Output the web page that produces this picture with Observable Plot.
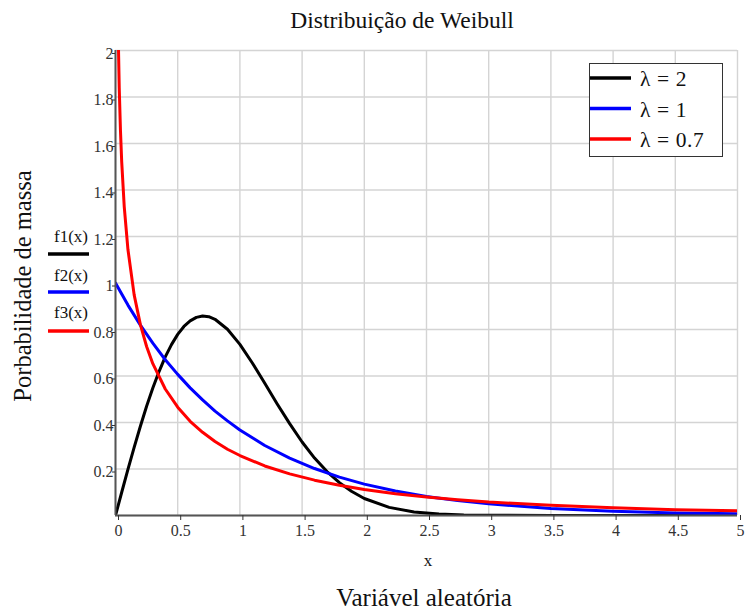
<!DOCTYPE html>
<html>
<head>
<meta charset="utf-8">
<script src="https://cdn.jsdelivr.net/npm/d3@7"></script>
<script src="https://cdn.jsdelivr.net/npm/@observablehq/plot@0.6"></script>
<style>
  html, body { margin: 0; padding: 0; background: #fff; }
  #chart { position: relative; width: 745px; height: 612px; }
  svg { display: block; }
  #chart svg, #chart svg text { font-family: "Liberation Serif", "Times New Roman", serif !important; }
</style>
</head>
<body>
<div id="chart"></div>
<script>
// ---- text ----
const titleText = "Distribuição de Weibull";
const xAxisLabel = "x";
const xCaption = "Variável aleatória";
const yAxisLabel = "Porbabilidade de massa";
const seriesNames = ["λ = 2", "λ = 1", "λ = 0.7"];
const seriesFuncLabels = ["f1(x)", "f2(x)", "f3(x)"];
const seriesColors = ["#000000", "#0000ff", "#ff0000"];

// ---- ticks ----
const xTicks = [0, 0.5, 1, 1.5, 2, 2.5, 3, 3.5, 4, 4.5, 5];
const xTickLabels = ["0", "0.5", "1", "1.5", "2", "2.5", "3", "3.5", "4", "4.5", "5"];
const yGridTicks = [0, 0.2, 0.4, 0.6, 0.8, 1, 1.2, 1.4, 1.6, 1.8, 2];
const yTicks = [0.2, 0.4, 0.6, 0.8, 1, 1.2, 1.4, 1.6, 1.8, 2];
const yTickLabels = ["0.2", "0.4", "0.6", "0.8", "1", "1.2", "1.4", "1.6", "1.8", "2"];

// ---- series ----
const x1 = [0, 0.05, 0.1, 0.15, 0.2, 0.25, 0.3, 0.35, 0.4, 0.45, 0.5, 0.55, 0.6, 0.65, 0.7, 0.75, 0.8, 0.9, 1.0, 1.1, 1.2, 1.3, 1.4, 1.5, 1.6, 1.7, 1.8, 1.9, 2.0, 2.2, 2.4, 2.6, 2.8, 3.0, 3.5, 4.0, 4.5, 5.0];
const f1 = [0, 0.100, 0.198, 0.293, 0.384, 0.470, 0.548, 0.619, 0.682, 0.735, 0.779, 0.813, 0.837, 0.852, 0.858, 0.855, 0.844, 0.801, 0.736, 0.656, 0.569, 0.480, 0.395, 0.316, 0.247, 0.189, 0.141, 0.103, 0.073, 0.035, 0.015, 0.006, 0.002, 0.001, 0, 0, 0, 0];

const x2 = [0, 0.1, 0.2, 0.3, 0.4, 0.5, 0.6, 0.7, 0.8, 0.9, 1.0, 1.2, 1.4, 1.6, 1.8, 2.0, 2.25, 2.5, 2.75, 3.0, 3.5, 4.0, 4.5, 5.0];
const f2 = [1, 0.905, 0.819, 0.741, 0.670, 0.607, 0.549, 0.497, 0.449, 0.407, 0.368, 0.301, 0.247, 0.202, 0.165, 0.135, 0.105, 0.082, 0.064, 0.050, 0.030, 0.018, 0.011, 0.007];

const x3 = [0.01, 0.02, 0.03, 0.04, 0.05, 0.07, 0.1, 0.15, 0.2, 0.25, 0.3, 0.4, 0.5, 0.6, 0.7, 0.8, 0.9, 1.0, 1.2, 1.4, 1.6, 1.8, 2.0, 2.25, 2.5, 2.75, 3.0, 3.5, 4.0, 4.5, 5.0];
const f3 = [2.68, 2.12, 1.84, 1.655, 1.52, 1.33, 1.144, 0.949, 0.821, 0.727, 0.653, 0.544, 0.466, 0.405, 0.358, 0.318, 0.285, 0.258, 0.213, 0.179, 0.152, 0.130, 0.112, 0.094, 0.080, 0.068, 0.058, 0.044, 0.033, 0.025, 0.020];

const seriesX = [x1, x2, x3];
const seriesY = [f1, f2, f3];

const FONT = "'Liberation Serif', 'Times New Roman', serif";

const lineMarks = seriesX.map((xs, i) =>
  Plot.line(xs.map((x, j) => ({x, y: seriesY[i][j]})), {
    x: "x", y: "y", stroke: seriesColors[i], strokeWidth: 3, clip: true
  })
);

const chart = Plot.plot({
  width: 745,
  height: 612,
  marginTop: 50,
  marginBottom: 97,
  marginLeft: 115,
  marginRight: 8,
  style: {fontFamily: FONT, fontSize: "16px", color: "#333", background: "#fff"},
  x: {domain: [0, 5]},
  y: {domain: [0, 2]},
  marks: [
    Plot.gridX(xTicks, {stroke: "#d4d4d4", strokeOpacity: 1, strokeWidth: 1.4}),
    Plot.gridY(yGridTicks, {stroke: "#d4d4d4", strokeOpacity: 1, strokeWidth: 1.4}),
    ...lineMarks,
    Plot.ruleX([0], {stroke: "#555", strokeWidth: 2}),
    Plot.ruleY([0], {stroke: "#555", strokeWidth: 2}),
    Plot.axisX(xTicks, {tickSize: 5, tickPadding: 4, dx: 3, label: null, fontSize: 16,
      stroke: "#333", tickFormat: (d) => xTickLabels[xTicks.indexOf(d)]}),
    Plot.axisY(yTicks, {tickSize: 3, tickPadding: -1, dy: 3, label: null, fontSize: 16,
      stroke: "#333", tickFormat: (d) => yTickLabels[yTicks.indexOf(d)]})
  ]
});

document.getElementById("chart").appendChild(chart);

// ---- annotations (title, labels, legends) ----
const svg = d3.select(chart);
const ann = svg.append("g").attr("fill", "#111").style("font-family", FONT);

function txt(x, y, size, anchor, s) {
  return ann.append("text").attr("x", x).attr("y", y)
    .attr("text-anchor", anchor).style("text-anchor", anchor)
    .style("font-family", FONT).style("font-size", size + "px").text(s);
}

txt(402, 28, 23.5, "middle", titleText);
txt(428, 566, 17, "middle", xAxisLabel);
txt(424, 606, 25, "middle", xCaption);
txt(0, 0, 24.5, "middle", yAxisLabel).attr("x", null).attr("y", null)
  .attr("transform", "translate(31,286) rotate(-90)");

// left function legend
const leftTextY = [242, 281, 318];
const leftLineY = [254, 292, 331];
seriesFuncLabels.forEach((lab, i) => {
  txt(71, leftTextY[i], 17, "middle", lab);
  ann.append("line").attr("x1", 48).attr("x2", 89).attr("y1", leftLineY[i]).attr("y2", leftLineY[i])
    .attr("stroke", seriesColors[i]).attr("stroke-width", 3.5);
});

// right boxed legend
ann.append("rect").attr("x", 589.5).attr("y", 63.5).attr("width", 133).attr("height", 93)
  .attr("fill", "#fff").attr("stroke", "#333").attr("stroke-width", 1);
const boxLineY = [78, 108.5, 139];
seriesNames.forEach((name, i) => {
  ann.append("line").attr("x1", 590).attr("x2", 631).attr("y1", boxLineY[i]).attr("y2", boxLineY[i])
    .attr("stroke", seriesColors[i]).attr("stroke-width", 3.5);
  txt(640, boxLineY[i] + 8, 21.5, "start", name).style("letter-spacing", "0.6px");
});
</script>
</body>
</html>
